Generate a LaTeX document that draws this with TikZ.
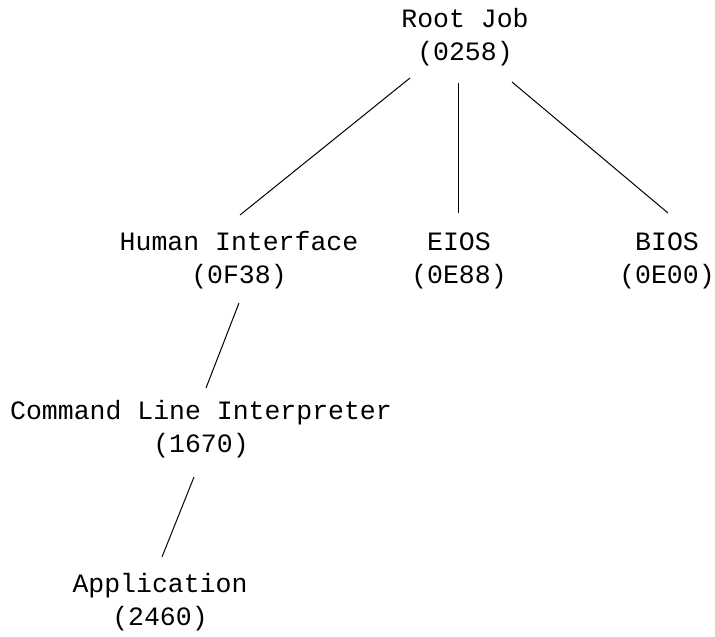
\documentclass[tikz,border=0pt]{standalone}
\usepackage{fontspec}
\setmonofont{Liberation Mono}
\usetikzlibrary{positioning}

\begin{document}
\begin{tikzpicture}[
        x=1pt, y=-1pt,
        every node/.style={font=\ttfamily\fontsize{26.5}{33}\selectfont,
            align=center, inner sep=0pt, anchor=base}]
        \useasboundingbox (0,0) rectangle (715,637);

        % base = baseline of the second line
        \node (RJ) at (465,60) {Root Job\\(0258)};
        \node (HI) at (239,283) {Human Interface\\(0F38)};
        \node (EI) at (459,283) {EIOS\\(0E88)};
        \node (BI) at (667,283) {BIOS\\(0E00)};
        \node (CLI) at (201,452) {Command Line Interpreter\\(1670)};
        \node (AP) at (160,625) {Application\\(2460)};

        \draw[line width=1pt] ([shift={(-55,18)}]RJ.base) -- ([shift={(1,-68)}]HI.base);
        \draw[line width=1pt] ([shift={(-7,23)}]RJ.base) -- ([shift={(-1,-70)}]EI.base);
        \draw[line width=1pt] ([shift={(47,22)}]RJ.base) -- ([shift={(1,-70)}]BI.base);
        \draw[line width=1pt] ([shift={(0,20)}]HI.base) -- ([shift={(5,-64)}]CLI.base);
        \draw[line width=1pt] ([shift={(-7,25)}]CLI.base) -- ([shift={(2,-68)}]AP.base);

    \end{tikzpicture}
\end{document}
